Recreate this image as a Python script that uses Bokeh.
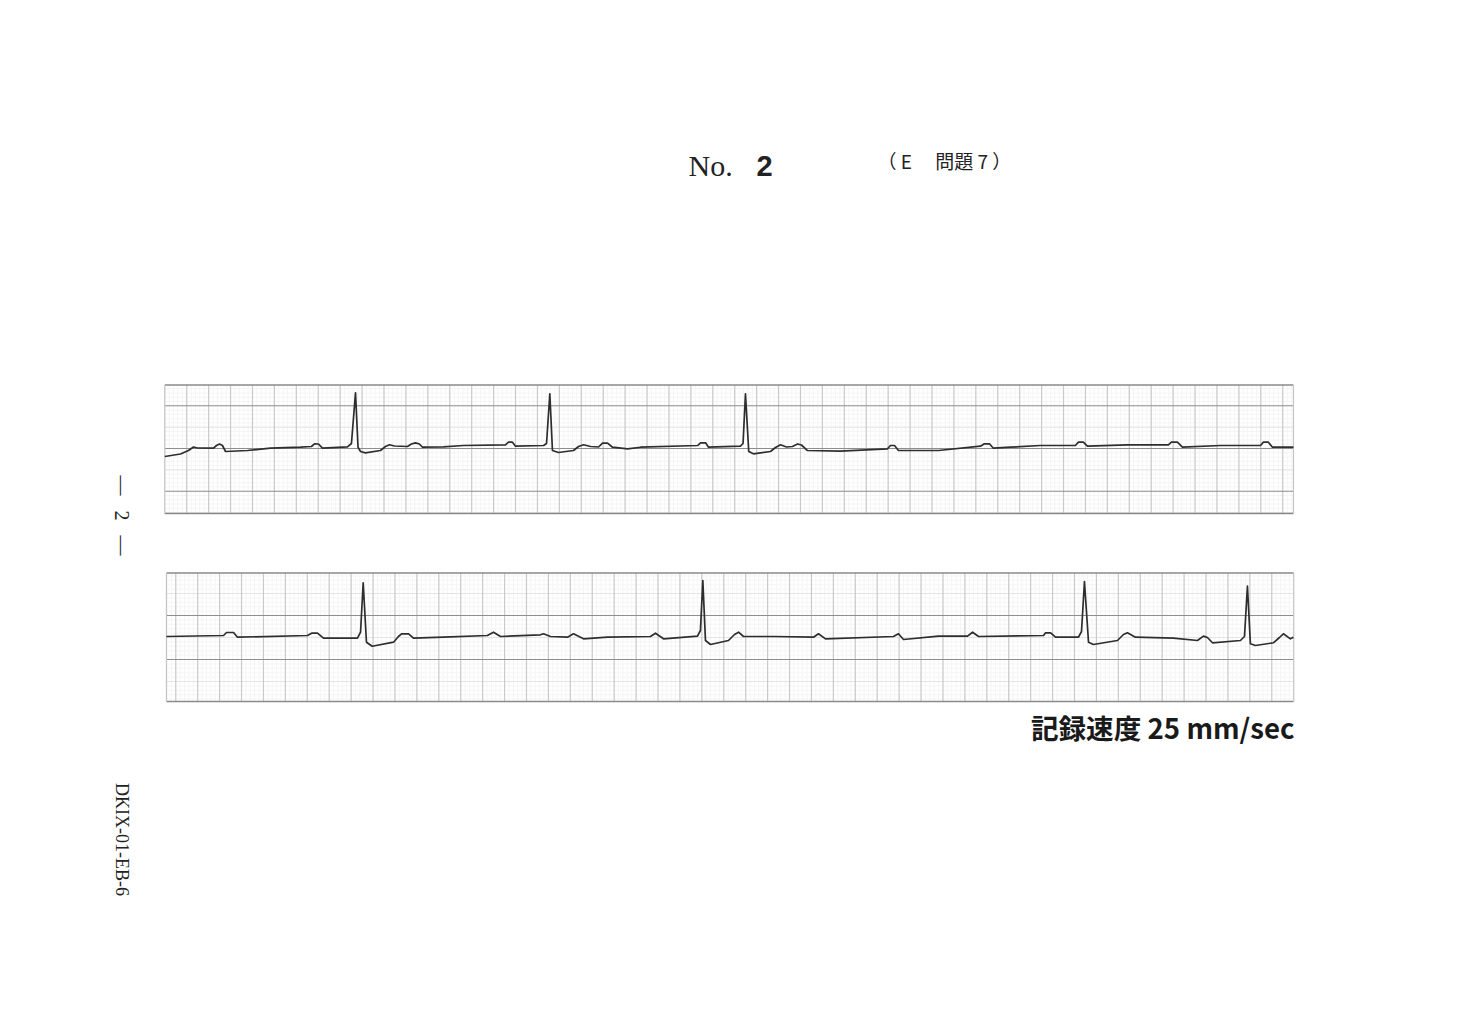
import numpy as np
from bokeh.plotting import figure
from bokeh.models import Range1d
from bokeh.embed import file_html
from bokeh.resources import INLINE
from bokeh.core.properties import value

# ---------------- data (time in s, amplitude in mV) ----------------
strip1_t = [0.000, 0.143, 0.216, 0.262, 0.298, 0.444, 0.472, 0.499, 0.526, 0.554,
            0.755, 0.964, 1.238, 1.338, 1.366, 1.402, 1.439, 1.667, 1.703, 1.740,
            1.763, 1.786, 1.831, 1.968, 2.013, 2.050, 2.095, 2.214, 2.250, 2.287,
            2.323, 2.351, 2.543, 2.725, 3.108, 3.136, 3.172, 3.200, 3.456, 3.483,
            3.513, 3.537, 3.592, 3.729, 3.775, 3.821, 3.885, 3.958, 3.994, 4.040,
            4.085, 4.222, 4.341, 4.861, 4.888, 4.934, 4.961, 5.252, 5.276, 5.298,
            5.328, 5.371, 5.526, 5.572, 5.618, 5.672, 5.727, 5.773, 5.809, 5.864,
            6.165, 6.594, 6.621, 6.658, 6.694, 7.059, 7.442, 7.478, 7.524, 7.560,
            7.715, 7.989, 8.308, 8.336, 8.381, 8.418, 8.783, 9.157, 9.184, 9.239,
            9.285, 9.632, 9.997, 10.024, 10.069, 10.106, 10.298]
strip1_mv = [-0.187, -0.129, -0.047, 0.035, 0.012, 0.007, 0.070, 0.105, 0.070, -0.070,
             -0.047, 0.007, 0.030, 0.047, 0.110, 0.105, 0.007, 0.040, 0.117, 1.304,
             0.030, -0.070, -0.101, -0.047, 0.047, 0.087, 0.059, 0.047, 0.105, 0.133,
             0.105, 0.030, 0.040, 0.070, 0.087, 0.148, 0.148, 0.054, 0.070, 0.117,
             1.281, -0.047, -0.094, -0.047, 0.047, 0.087, 0.047, 0.035, 0.124, 0.124,
             0.030, -0.007, 0.030, 0.070, 0.133, 0.133, 0.030, 0.054, 0.117, 1.281,
             -0.070, -0.124, -0.070, 0.023, 0.087, 0.035, 0.047, 0.105, 0.082, -0.047,
             -0.063, -0.007, 0.070, 0.070, -0.047, -0.047, 0.054, 0.110, 0.110, 0.007,
             0.030, 0.070, 0.070, 0.148, 0.148, 0.054, 0.087, 0.087, 0.148, 0.148,
             0.030, 0.070, 0.070, 0.148, 0.148, 0.030, 0.030]

strip2_t = [0.115, 0.636, 0.663, 0.727, 0.763, 1.402, 1.439, 1.493, 1.548, 1.858,
            1.886, 1.910, 1.940, 1.992, 2.187, 2.232, 2.260, 2.324, 2.369, 2.643,
            3.043, 3.099, 3.163, 3.528, 3.555, 3.619, 3.774, 3.829, 3.920, 4.139,
            4.531, 4.577, 4.650, 4.960, 4.987, 5.009, 5.033, 5.079, 5.243, 5.298,
            5.335, 5.380, 5.654, 6.019, 6.064, 6.128, 6.748, 6.794, 6.840, 7.159,
            7.424, 7.470, 7.525, 8.118, 8.136, 8.182, 8.227, 8.437, 8.464, 8.491,
            8.528, 8.573, 8.792, 8.847, 8.883, 8.956, 9.303, 9.522, 9.577, 9.613,
            9.659, 9.914, 9.951, 9.978, 10.005, 10.051, 10.215, 10.270, 10.306, 10.370,
            10.397]
strip2_mv = [0.523, 0.545, 0.614, 0.614, 0.507, 0.545, 0.598, 0.598, 0.484, 0.484,
             0.620, 1.743, 0.393, 0.302, 0.393, 0.523, 0.584, 0.584, 0.484, 0.507,
             0.545, 0.620, 0.523, 0.561, 0.584, 0.523, 0.507, 0.584, 0.470, 0.507,
             0.523, 0.598, 0.470, 0.530, 0.659, 1.795, 0.432, 0.341, 0.432, 0.568,
             0.620, 0.523, 0.523, 0.507, 0.584, 0.470, 0.523, 0.584, 0.455, 0.530,
             0.530, 0.620, 0.523, 0.545, 0.607, 0.607, 0.507, 0.507, 0.636, 1.773,
             0.393, 0.341, 0.432, 0.568, 0.607, 0.507, 0.484, 0.432, 0.530, 0.500,
             0.380, 0.432, 0.523, 1.666, 0.357, 0.318, 0.380, 0.500, 0.584, 0.470,
             0.507]

NB = "\u00a0"
title_no = "No."
title_num = "2"
title_sub = "（" + NB + "E　" + NB + "問題" + NB + "7" + NB + "）"
page_label = "—" + NB * 3 + "2" + NB * 3 + "—"
code_label = "DKIX-01-EB-6"
speed_label = "記録速度 25 mm/sec"

# ---------------- layout ----------------
W, H = 1442, 1016
p = figure(width=W, height=H, x_range=Range1d(0, W), y_range=Range1d(H, 0),
           output_backend="svg", toolbar_location=None, min_border=0,
           x_axis_location=None, y_axis_location=None)
p.grid.visible = False
p.outline_line_color = None
p.background_fill_color = "white"
p.border_fill_color = "white"

PXS = 109.6  # pixels per second (25 mm/s)

strips = [
    dict(name="1", t_origin=164.3, v_zero=448.0, pxmv=42.7,
         t_lim=(0.0, 10.298), v_lim=(-1.522, 1.487), t=strip1_t, v=strip1_mv),
    dict(name="2", t_origin=153.35, v_zero=659.0, pxmv=44.0,
         t_lim=(0.115, 10.40), v_lim=(-0.955, 1.966), t=strip2_t, v=strip2_mv),
]

for s in strips:
    xn, yn = "t" + s["name"], "v" + s["name"]
    p.extra_x_ranges[xn] = Range1d((0 - s["t_origin"]) / PXS, (W - s["t_origin"]) / PXS)
    p.extra_y_ranges[yn] = Range1d((s["v_zero"] - H) / s["pxmv"], (s["v_zero"] - 0) / s["pxmv"])
    ta, tb = s["t_lim"]
    va, vb = s["v_lim"]
    kw = dict(x_range_name=xn, y_range_name=yn)

    # minor grid
    tm = [k * 0.04 for k in range(int(np.ceil(ta / 0.04)), int(np.floor(tb / 0.04)) + 1)]
    vm = [k * 0.1 for k in range(int(np.ceil(va / 0.1)), int(np.floor(vb / 0.1)) + 1)]
    p.segment(x0=tm, x1=tm, y0=[va] * len(tm), y1=[vb] * len(tm), line_color="#f5f5f5", line_width=1, **kw)
    p.segment(x0=[ta] * len(vm), x1=[tb] * len(vm), y0=vm, y1=vm, line_color="#f5f5f5", line_width=1, **kw)
    # half-mV faint lines
    vh = [k * 0.5 for k in range(int(np.ceil(va / 0.5)), int(np.floor(vb / 0.5)) + 1)]
    vh = [v for v in vh if abs(v - round(v)) > 0.1]
    p.segment(x0=[ta] * len(vh), x1=[tb] * len(vh), y0=vh, y1=vh, line_color="#e4e4e4", line_width=1, **kw)
    # vertical major (0.2 s)
    tM = [k * 0.2 for k in range(int(np.ceil(ta / 0.2)), int(np.floor(tb / 0.2)) + 1)]
    tM = [t for t in tM if ta + 0.02 < t < tb - 0.02]
    p.segment(x0=tM, x1=tM, y0=[va] * len(tM), y1=[vb] * len(tM), line_color="#cacaca", line_width=1.2, **kw)
    # horizontal major (1 mV)
    vM = [float(k) for k in range(int(np.ceil(va)), int(np.floor(vb)) + 1)]
    p.segment(x0=[ta] * len(vM), x1=[tb] * len(vM), y0=vM, y1=vM, line_color="#8e8e8e", line_width=1.1, **kw)
    # borders
    p.segment(x0=[ta, ta], x1=[tb, tb], y0=[va, vb], y1=[va, vb], line_color="#8a8a8a", line_width=1.3, **kw)
    p.segment(x0=[ta, tb], x1=[ta, tb], y0=[va, va], y1=[vb, vb], line_color="#c4c4c4", line_width=1.2, **kw)
    # trace
    p.line(s["t"], s["v"], line_color="#2e2e2e", line_width=1.7, line_join="round", **kw)

# ---------------- texts ----------------
p.text(x=[688], y=[165], text=[title_no], text_font=value("Liberation Serif"), text_font_size="30px",
       text_color="#222222", text_baseline="middle", text_align="left")
p.text(x=[764], y=[165], text=[title_num], text_font=value("Liberation Sans"), text_font_size="29px",
       text_font_style="bold", text_color="#222222", text_baseline="middle", text_align="center")
p.text(x=[877], y=[160], text=[title_sub], text_font=value("Noto Sans CJK JP"), text_font_size="19px",
       text_color="#222222", text_baseline="middle", text_align="left")
p.text(x=[121], y=[515], text=[page_label], text_font=value("Liberation Serif"), text_font_size="20px",
       text_color="#222222", text_baseline="middle", text_align="center", angle=-np.pi / 2)
p.text(x=[121], y=[839], text=[code_label], text_font=value("Liberation Serif"), text_font_size="18px",
       text_color="#222222", text_baseline="middle", text_align="center", angle=-np.pi / 2)
p.text(x=[1294], y=[726], text=[speed_label], text_font=value("Noto Sans CJK JP"), text_font_size="27.6px",
       text_font_style="bold", text_color="#1a1a1a", text_baseline="middle", text_align="right")

open("out.html", "w").write(file_html(p, INLINE))
